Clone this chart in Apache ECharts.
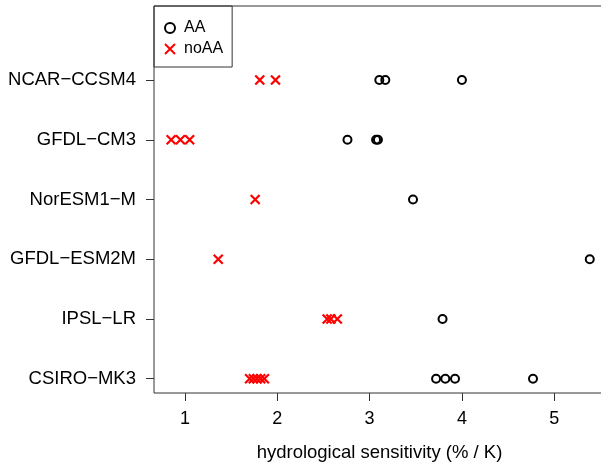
<!DOCTYPE html>
<html>
<head>
<meta charset="utf-8">
<script src="https://cdn.jsdelivr.net/npm/echarts@6/dist/echarts.min.js"></script>
<style>html,body{margin:0;padding:0;background:#fff}#c{width:601px;height:463px}</style>
</head>
<body>
<div id="c"></div>
<script>
// Models, bottom to top (y = 1..6)
const models = ['CSIRO\u2212MK3', 'IPSL\u2212LR', 'GFDL\u2212ESM2M', 'NorESM1\u2212M', 'GFDL\u2212CM3', 'NCAR\u2212CCSM4'];
const aaValues = [
  [3.72, 3.82, 3.925, 4.77],
  [3.79],
  [5.385],
  [3.47],
  [2.76, 3.07, 3.09],
  [3.105, 3.17, 4.00]
];
const noaaValues = [
  [1.70, 1.74, 1.78, 1.82, 1.86],
  [2.54, 2.58, 2.65],
  [1.36],
  [1.76],
  [0.85, 0.95, 1.05],
  [1.81, 1.98]
];
const xTicks = [1, 2, 3, 4, 5];
const yTicks = [1, 2, 3, 4, 5, 6];

function toPoints(groups) {
  const pts = [];
  groups.forEach((vals, i) => vals.forEach(v => pts.push([v, i + 1])));
  return pts;
}

const crossPath = 'path://M0,0L10,10M10,0L0,10';
const font = 'Liberation Sans, Arial, Helvetica, sans-serif';

const chart = echarts.init(document.getElementById('c'), null, {renderer: 'canvas'});
chart.setOption({
  animation: false,
  backgroundColor: '#fff',
  grid: {
    left: 154, top: 6, right: -4, bottom: 70,
    outerBoundsMode: 'none', containLabel: false,
    show: true, borderColor: '#333', borderWidth: 1, backgroundColor: 'transparent'
  },
  legend: {
    left: 154, top: 6, orient: 'vertical',
    padding: [14, 9, 10, 10], itemGap: 5,
    itemWidth: 10, itemHeight: 10,
    borderColor: '#333', borderWidth: 1, borderRadius: 0,
    textStyle: {fontFamily: font, fontSize: 16, lineHeight: 16, color: '#000', padding: [0, 0, 0, 4]},
    data: [
      {name: 'AA', icon: 'circle', itemStyle: {color: 'transparent', borderColor: '#000', borderWidth: 2}},
      {name: 'noAA', icon: crossPath, itemStyle: {color: 'transparent', borderColor: '#ff0000', borderWidth: 2}}
    ]
  },
  xAxis: {
    type: 'value', min: 0.664, max: 5.55,
    name: 'hydrological sensitivity (% / K)', nameLocation: 'middle', nameGap: 50,
    nameTextStyle: {fontFamily: font, fontSize: 18.5, color: '#000'},
    axisLine: {show: false},
    axisTick: {show: true, inside: false, length: 8, customValues: xTicks, lineStyle: {color: '#333', width: 1}},
    axisLabel: {customValues: xTicks, margin: 17, fontFamily: font, fontSize: 18, color: '#000'},
    splitLine: {show: false}
  },
  yAxis: {
    type: 'value', min: 0.76, max: 7.24,
    axisLine: {show: false},
    axisTick: {show: true, inside: false, length: 8, customValues: yTicks, lineStyle: {color: '#333', width: 1}},
    axisLabel: {customValues: yTicks, margin: 18, fontFamily: font, fontSize: 18.5, color: '#000',
      formatter: v => models[Math.round(v) - 1] || ''},
    splitLine: {show: false}
  },
  series: [
    {
      name: 'AA', type: 'scatter', data: toPoints(aaValues),
      symbol: 'circle', symbolSize: 8,
      itemStyle: {color: 'transparent', borderColor: '#000', borderWidth: 2, opacity: 1}
    },
    {
      name: 'noAA', type: 'scatter', data: toPoints(noaaValues),
      symbol: crossPath, symbolSize: 9,
      itemStyle: {color: 'transparent', borderColor: '#ff0000', borderWidth: 2.2, opacity: 1}
    }
  ]
});
</script>
</body>
</html>
